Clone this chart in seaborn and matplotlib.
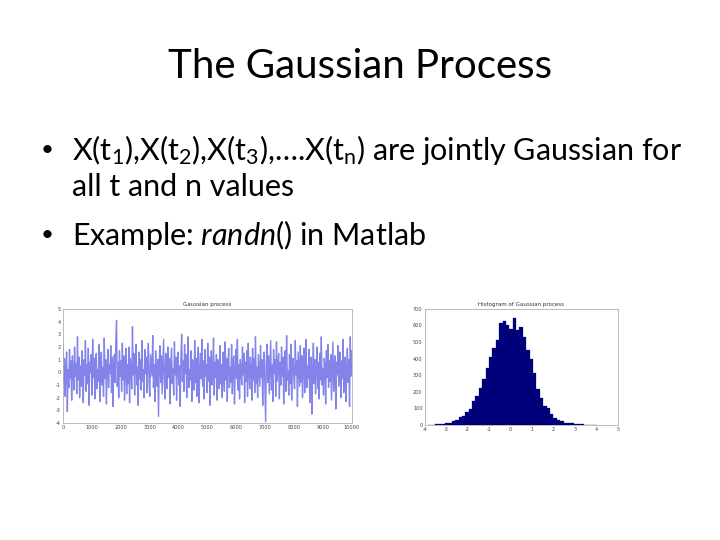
"""Slide: The Gaussian Process, with a sample path and its histogram."""

import matplotlib

matplotlib.use("Agg")
import matplotlib.pyplot as plt
import numpy as np
import pandas as pd
import seaborn as sns

# sample path of randn() (10000 samples, shown at 400 points)
process_values = [
    2.3, -0.8, 1.1, -1.9, 0.4, 1.6, -3.1, 0.2, -1.2, 1.8, -0.5, 0.9, -2.2, 1.3, 0.1, -1.4, 2.0, -0.3, 0.7, -1.7,
    2.8, -0.6, 1.2, -2.0, 0.5, -1.1, 1.7, 0.3, -2.4, 1.0, -0.2, 2.5, -1.5, 0.6, -0.9, 1.9, -2.6, 0.8, 0.0, 1.4,
    -1.8, 2.6, -0.4, 1.1, -2.1, 0.7, 1.5, -1.3, 0.2, -0.7, 2.2, -2.3, 0.9, 1.6, -1.0, 0.4, -1.9, 2.7, -0.5, 1.0,
    -2.5, 0.3, 1.8, -1.2, 0.6, -0.1, 2.1, -1.6, 1.2, -2.7, 0.5, 1.4, -0.8, 2.4, 4.1, -1.1, 0.8, -2.0, 1.7, -0.3,
    0.9, -1.5, 2.3, -0.6, 1.3, -2.2, 0.1, 1.9, -1.7, 0.6, -0.9, 2.0, -2.4, 1.1, 0.3, -1.3, 3.6, -0.2, 1.5, -1.8,
    0.7, 2.2, -1.0, 0.4, -2.6, 1.6, -0.5, 1.0, -1.4, 2.5, -0.7, 0.2, -2.0, 1.8, -0.1, 1.2, -1.6, 0.8, 2.3, -0.9,
    -1.9, 1.4, 0.5, -0.3, 2.9, -1.2, 0.6, -2.3, 1.7, 0.0, -1.1, 1.0, -3.5, 0.9, 2.1, -0.8, 1.3, -1.7, 0.4, 2.6,
    -0.6, -2.1, 1.5, 0.2, -1.3, 2.0, -0.4, 1.1, -2.5, 0.7, 1.9, -0.9, 0.3, -1.8, 2.4, -0.2, 1.2, -2.2, 0.8, 1.6,
    -1.0, 0.5, -2.7, 1.3, 3.0, -0.7, 0.9, -1.5, 2.2, -0.1, 1.4, -2.0, 0.6, 2.8, -1.2, 0.2, -0.6, 1.7, -2.3, 1.0,
    0.4, -1.4, 2.5, -0.8, 1.1, -1.9, 0.7, 2.0, -2.4, 0.1, 1.5, -0.5, 2.6, -1.1, 0.9, -2.1, 1.8, -0.3, 0.6, -1.6,
    2.3, -0.7, 1.2, -2.6, 0.5, 1.7, -1.0, 0.0, 2.7, -1.8, 0.8, -0.4, 1.4, -2.2, 1.0, 0.3, -1.3, 2.1, -0.9, 0.6,
    -2.0, 1.6, 0.2, -1.5, 2.4, -0.6, 1.1, -2.3, 0.7, 1.9, -1.2, 0.4, -0.8, 2.2, -1.7, 0.9, 1.3, -2.5, 0.1, 1.8,
    -0.5, 2.6, -1.4, 0.6, -2.1, 1.0, 0.3, -1.0, 2.0, -0.2, 1.5, -2.4, 0.8, -0.7, 1.7, -1.9, 2.3, 0.0, -1.3, 1.2,
    0.5, -2.2, 1.9, -0.6, 1.1, -1.6, 2.8, -0.9, 0.4, -2.0, 1.4, 0.2, -1.1, 2.1, -0.4, 1.0, -2.6, 0.7, 1.6, -1.2,
    -3.9, 0.9, 2.2, -0.8, 1.3, -1.7, 0.3, 2.5, -1.4, 0.6, -2.3, 1.8, -0.1, 1.0, -1.9, 2.4, -0.7, 0.5, 1.5, -2.1,
    0.8, -1.0, 2.0, -0.3, 1.2, -2.5, 0.4, 1.7, -1.5, 2.9, -0.6, 0.1, -1.8, 1.4, -0.9, 2.2, -2.2, 0.7, 1.1, -0.4,
    -1.3, 2.5, -0.2, 0.9, -2.7, 1.6, 0.3, -1.1, 2.1, -0.8, 1.3, -2.0, 0.6, 1.9, -1.6, 0.0, 2.6, -1.2, 0.5, -0.5,
    1.8, -2.4, 0.7, 1.2, -3.3, 0.2, 2.3, -0.9, 1.0, -1.7, 0.4, 2.0, -1.3, 0.8, -2.1, 1.5, -0.6, 2.8, -1.0, 0.3,
    -1.8, 1.1, 0.6, -2.5, 1.7, -0.4, 2.2, -1.2, 0.9, -0.7, 1.4, -2.2, 0.1, 2.4, -1.5, 0.5, 1.3, -2.9, 0.8, -0.2,
    2.1, -1.1, 0.4, 1.6, -2.0, 0.9, -0.5, 2.6, -1.6, 0.7, 1.2, -2.3, 0.2, 1.9, -0.8, 1.0, -2.7, 2.8, -0.3, 1.7,
]
sample_count = 10000

# histogram of the same process: 50 bins, counts
bin_low, bin_high = -3.85, 4.05
bin_counts = [
    1, 2, 3, 5, 6, 10, 14, 22, 28, 48,
    52, 78, 97, 145, 175, 222, 280, 342, 410, 462,
    515, 615, 625, 605, 580, 645, 572, 590, 532, 452,
    400, 312, 215, 165, 112, 102, 68, 45, 32, 22,
    14, 12, 10, 8, 5, 3, 2, 1, 0, 1,
]

title_text = "The Gaussian Process"
bullet_lines = [
    "X(t$_1$),X(t$_2$),X(t$_3$),….X(t$_\\mathrm{n}$) are jointly Gaussian for",
    "all t and n values",
    "Example: $\\mathit{randn()}$ in Matlab",
]
path_title = "Gaussian process"
hist_title = "Histogram of Gaussian process"

sns.set_style("white")
plt.rcParams["font.family"] = ["Lato", "DejaVu Sans"]
plt.rcParams["mathtext.fontset"] = "custom"
plt.rcParams["mathtext.rm"] = "Lato"
plt.rcParams["mathtext.it"] = "Lato:italic"
plt.rcParams["axes.unicode_minus"] = False

fig = plt.figure(figsize=(7.2, 5.4), dpi=100)
fig.patch.set_facecolor("white")

fig.text(0.5, 0.876, title_text, ha="center", va="center", fontsize=29, color="black")
body = dict(ha="left", va="center", fontsize=22, color="black")
bullet = dict(ha="center", va="center", fontsize=16, color="black")
fig.text(0.066, 0.722, "•", **bullet)
fig.text(0.1, 0.722, bullet_lines[0], **body)
fig.text(0.1, 0.654, bullet_lines[1], **body)
fig.text(0.066, 0.565, "•", **bullet)
fig.text(0.1, 0.565, bullet_lines[2], **body)


def matlab_axes(ax):
    for spine in ax.spines.values():
        spine.set_color("#b0b0b0")
        spine.set_linewidth(0.6)
    ax.tick_params(direction="in", length=2, width=0.5, color="#999999",
                   labelsize=3.6, labelcolor="#444444", pad=1.5)
    for label in ax.get_xticklabels() + ax.get_yticklabels():
        label.set_family("DejaVu Sans")


# left panel: sample path
ax_path = fig.add_axes([0.0875, 0.2167, 0.401, 0.2111])
sample_index = np.linspace(0, sample_count, len(process_values))
sns.lineplot(x=sample_index, y=process_values, ax=ax_path, color="#1e1ed8",
             linewidth=1.0, alpha=0.55)
ax_path.set_xlim(0, sample_count)
ax_path.set_ylim(-4, 5)
ax_path.set_xticks(np.arange(0, sample_count + 1, 1000))
ax_path.set_yticks(np.arange(-4, 6, 1))
matlab_axes(ax_path)
ax_path.set_title(path_title, fontsize=4, family="DejaVu Sans", color="#333333", pad=2)

# right panel: histogram
ax_hist = fig.add_axes([0.590, 0.213, 0.268, 0.215])
bin_width = (bin_high - bin_low) / len(bin_counts)
hist_df = pd.DataFrame({
    "center": [bin_low + bin_width * (i + 0.5) for i in range(len(bin_counts))],
    "count": bin_counts,
})
sns.histplot(data=hist_df, x="center", weights="count", bins=len(bin_counts),
             binrange=(bin_low, bin_high), ax=ax_hist,
             color="#00007a", edgecolor="#00007a", linewidth=0.2, alpha=1.0)
ax_hist.set_xlim(-4, 5)
ax_hist.set_ylim(0, 700)
ax_hist.set_xticks(np.arange(-4, 6, 1))
ax_hist.set_yticks(np.arange(0, 701, 100))
ax_hist.set_xlabel("")
ax_hist.set_ylabel("")
matlab_axes(ax_hist)
ax_hist.set_title(hist_title, fontsize=4, family="DejaVu Sans", color="#333333", pad=2)

fig.savefig("out.png", dpi=100, facecolor="white")
